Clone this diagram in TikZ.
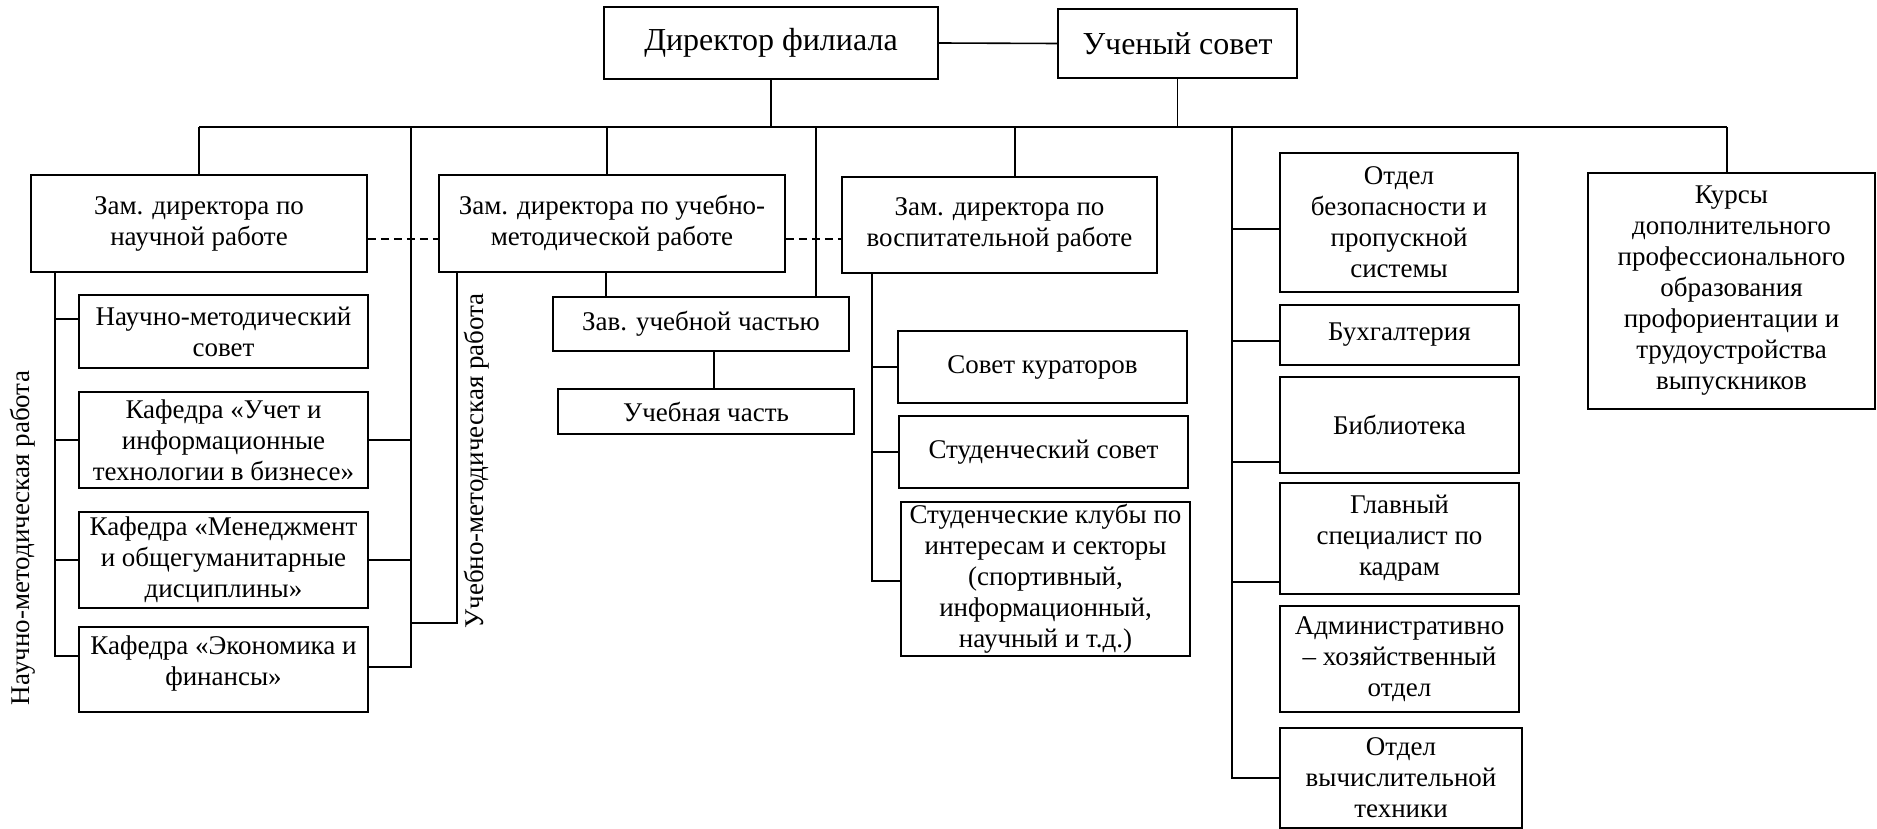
\documentclass[tikz,border=0pt]{standalone}
\usepackage{fontspec}
\setmainfont{Liberation Serif}
\begin{document}
\begin{tikzpicture}[x=1pt,y=-1pt,
  box/.style={draw,line width=1.8pt,inner sep=0pt,align=center,font=\fontsize{27}{31}\selectfont},
  bigbox/.style={draw,line width=1.8pt,inner sep=0pt,align=center,font=\fontsize{32}{36}\selectfont},
  conn/.style={line width=1.6pt},
  dashconn/.style={line width=1.6pt,dash pattern=on 8pt off 5pt},
  lab/.style={rotate=90,inner sep=0pt,font=\fontsize{27}{31}\selectfont}]
\useasboundingbox (0,0) rectangle (1877,829);
% top
\node[bigbox,minimum width=334,minimum height=72] (dir) at (771,43) {Директор филиала};
\node[bigbox,minimum width=239,minimum height=69] (uch) at (1177.5,43.5) {Ученый совет};
% deputies
\node[box,minimum width=336,minimum height=97] (zn) at (199,223.5) {Зам. директора по\\научной работе};
\node[box,minimum width=346,minimum height=97] (zu) at (612,223.5) {Зам. директора по учебно-\\методической работе};
\node[box,minimum width=315,minimum height=96] (zv) at (999.5,225) {Зам. директора по\\воспитательной работе};
% left column
\node[box,minimum width=289,minimum height=73] (nms) at (223.5,331.5) {Научно-методический\\совет};
\node[box,minimum width=289,minimum height=96] (k1) at (223.5,440) {Кафедра «Учет и\\информационные\\технологии в бизнесе»};
\node[box,minimum width=289,minimum height=96] (k2) at (223.5,560) {Кафедра «Менеджмент\\и общегуманитарные\\дисциплины»};
\node[box,minimum width=289,minimum height=85] (k3) at (223.5,669.5) {Кафедра «Экономика и\\финансы»\\[-14pt]\mbox{}};
% middle
\node[box,minimum width=296,minimum height=54] (zav) at (701,324) {Зав. учебной частью};
\node[box,minimum width=296,minimum height=45] (uchch) at (706,411.5) {Учебная часть};
\node[box,minimum width=289,minimum height=72] (sk) at (1042.5,367) {Совет кураторов};
\node[box,minimum width=289,minimum height=72] (ss) at (1043.5,452) {Студенческий совет};
\node[box,minimum width=289,minimum height=154] (cl) at (1045.5,579) {Студенческие клубы по\\интересам и секторы\\(спортивный,\\информационный,\\научный и т.д.)};
% right column
\node[box,minimum width=238,minimum height=139] (ob) at (1399,222.5) {Отдел\\безопасности и\\пропускной\\системы};
\node[box,minimum width=239,minimum height=60] (buh) at (1399.5,335) {Бухгалтерия};
\node[box,minimum width=239,minimum height=96] (bib) at (1399.5,425) {Библиотека};
\node[box,minimum width=239,minimum height=111] (gl) at (1399.5,538.5) {Главный\\специалист по\\кадрам};
\node[box,minimum width=239,minimum height=106] (adm) at (1399.5,659) {Административно\\– хозяйственный\\отдел};
\node[box,minimum width=242,minimum height=100] (ovt) at (1401,778) {Отдел\\вычислительной\\техники};
\node[box,minimum width=287,minimum height=236] (kurs) at (1731.5,291) {Курсы\\дополнительного\\профессионального\\образования\\профориентации и\\трудоустройства\\выпускников};
% rotated labels
\node[lab] (lnm) at (23,538) {Научно-методическая работа};
\node[lab] (lum) at (477,461) {Учебно-методическая работа};
% coordinates
\coordinate (busL) at (199,127);
\coordinate (busR) at (1727,127);
\coordinate (a1) at (411,127);
\coordinate (a2) at (816,127);
\coordinate (vz) at (1015,127);
\coordinate (r1) at (1232,127);
\coordinate (um) at (457,623);
\coordinate (a4) at (714,389);
\coordinate (l1) at (55,656);
\coordinate (v1) at (872,581);
\coordinate (r2) at (1232,778);
% top connectors
\draw[conn] (dir.east) -- (uch.west);
\draw[conn] (busL) -- (busR);
\draw[conn] (dir.south) -- (dir.south |- busL);
\draw[conn] (uch.south) -- (uch.south |- busL);
\draw[conn] (busL) -- (zn.north);
\draw[conn] ([xshift=-5pt]zu.north) -- ([xshift=-5pt]zu.north |- busL);
\draw[conn] (vz) -- (vz |- zv.north);
\draw[conn] (busR) -- (busR |- kurs.north);
\draw[conn] (a2) -- (a2 |- zav.north);
% dashed
\draw[dashconn] (zn.east |- 0,239) -- (zu.west |- 0,239);
\draw[dashconn] (zu.east |- 0,239) -- (zv.west |- 0,239);
% left tree
\draw[conn] (zn.south -| l1) -- (l1) -- (l1 -| k3.west);
\draw[conn] (l1 |- 0,319) -- (nms.west |- 0,319);
\draw[conn] (k1.west -| l1) -- (k1.west);
\draw[conn] (k2.west -| l1) -- (k2.west);
\draw[conn] (a1) -- (a1 |- 0,667) -- (k3.east |- 0,667);
\draw[conn] (k1.east) -- (k1.east -| a1);
\draw[conn] (k2.east) -- (k2.east -| a1);
\draw[conn] (zu.south -| um) -- (um) -- (um -| a1);
% middle tree
\draw[conn] ([xshift=-6pt]zu.south) -- ([xshift=-6pt]zu.south |- zav.north);
\draw[conn] (a4) -- (a4 |- zav.south);
\draw[conn] (zv.south -| v1) -- (v1) -- (v1 -| cl.west);
\draw[conn] (sk.west -| v1) -- (sk.west);
\draw[conn] (ss.west -| v1) -- (ss.west);
% right tree
\draw[conn] (r1) -- (r2) -- (r2 -| ovt.west);
\draw[conn] (r1 |- 0,229) -- (ob.west |- 0,229);
\draw[conn] (r1 |- 0,341) -- (buh.west |- 0,341);
\draw[conn] (r1 |- 0,462) -- (bib.west |- 0,462);
\draw[conn] (r1 |- 0,582) -- (gl.west |- 0,582);
\end{tikzpicture}
\end{document}
